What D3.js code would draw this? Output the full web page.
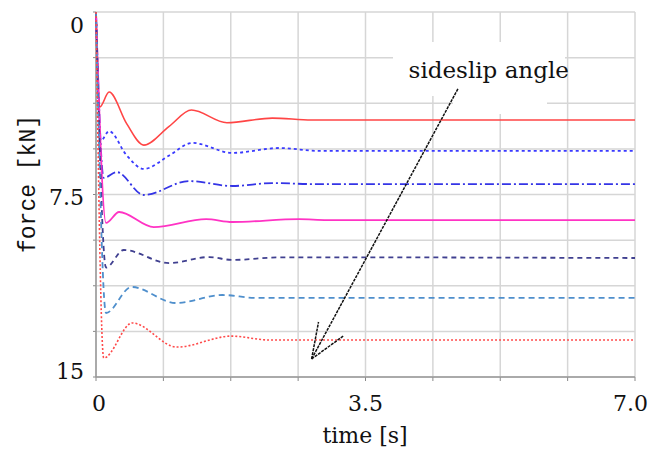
<!DOCTYPE html>
<html>
<head>
<meta charset="utf-8">
<script src="https://cdn.jsdelivr.net/npm/d3@7"></script>
<style>
  html, body { margin: 0; padding: 0; background: #ffffff; }
  svg { display: block; }
</style>
</head>
<body>
<svg id="chart" width="650" height="454"></svg>
<script>
// ---- data (time [s], force [kN]) ----
const xTickLabels = [0, 3.5, 7.0];
const yTickLabels = [0, 7.5, 15];
const seriesNames = ["s1", "s2", "s3", "s4", "s5", "s6", "s7"];

const s1 = [[0,0],[0.05,3.9],[0.17,3.29],[0.40,4.6],[0.62,5.47],[0.95,4.7],[1.24,4.03],[1.70,4.55],[2.29,4.36],[2.8,4.44],[7,4.44]];
const s2 = [[0,0],[0.06,5.3],[0.17,4.9],[0.40,5.9],[0.62,6.45],[0.95,5.9],[1.25,5.38],[1.77,5.79],[2.38,5.59],[2.9,5.71],[7,5.71]];
const s3 = [[0,0],[0.10,6.82],[0.27,6.58],[0.62,7.52],[1.21,6.95],[1.77,7.15],[2.29,7.03],[2.8,7.07],[7,7.07]];
const s4 = [[0,0],[0.13,8.67],[0.30,8.22],[0.75,8.84],[1.43,8.51],[1.77,8.63],[2.64,8.51],[3.0,8.55],[7,8.55]];
const s5 = [[0,0],[0.13,10.5],[0.36,9.78],[0.95,10.32],[1.47,10.07],[1.77,10.19],[2.4,10.08],[7,10.11]];
const s6 = [[0,0],[0.13,12.37],[0.46,11.3],[1.04,11.96],[1.64,11.63],[2.08,11.75],[7,11.75]];
const s7 = [[0,0],[0.10,14.22],[0.47,12.78],[1.05,13.77],[1.76,13.32],[2.25,13.48],[7,13.48]];
const seriesData = [s1, s2, s3, s4, s5, s6, s7];

// annotation (data units)
const arrowLine = [[4.70, 3.16], [2.80, 14.26]];
const arrowBarbs = [[[2.80, 14.26], [2.89, 12.74]], [[2.80, 14.26], [3.21, 13.32]]];
const annotationText = "sideslip angle";
const annotationPos = [4.06, 2.71];

// ---- styles ----
const styles = [
  { color: "#ff4545", dash: null,        width: 1.6 },
  { color: "#3a3aff", dash: "3,3",       width: 1.8 },
  { color: "#3434e6", dash: "9,3,2,3",   width: 1.8 },
  { color: "#ff33c4", dash: null,        width: 1.8 },
  { color: "#404090", dash: "5,4",       width: 1.8 },
  { color: "#4f8fcc", dash: "6,4",       width: 1.8 },
  { color: "#ff4a4a", dash: "2,2",       width: 1.6 }
];

const svg = d3.select("#chart");
const L = 96, R = 635, T = 12, B = 377;
const x = d3.scaleLinear().domain([0, 7]).range([L, R]);
const y = d3.scaleLinear().domain([0, 15]).range([T, B]);

const gridX = d3.range(0, 9).map(i => i * 7 / 8);
const gridY = d3.range(0, 9).map(i => i * 15 / 8);

const grid = svg.append("g");
grid.selectAll("line.gx").data(gridX).join("line")
  .attr("x1", d => x(d)).attr("x2", d => x(d))
  .attr("y1", T).attr("y2", B)
  .attr("stroke", "#d6d6d6").attr("stroke-width", 1.5);
grid.selectAll("line.gy").data(gridY).join("line")
  .attr("x1", L).attr("x2", R)
  .attr("y1", d => y(d)).attr("y2", d => y(d))
  .attr("stroke", "#d6d6d6").attr("stroke-width", 1.5);

// small ticks
grid.selectAll("line.tx").data(gridX).join("line")
  .attr("x1", d => x(d)).attr("x2", d => x(d))
  .attr("y1", B).attr("y2", B + 4)
  .attr("stroke", "#888").attr("stroke-width", 1);
grid.selectAll("line.ty").data(gridY).join("line")
  .attr("x1", L - 3).attr("x2", L)
  .attr("y1", d => y(d)).attr("y2", d => y(d))
  .attr("stroke", "#888").attr("stroke-width", 1);

// white box behind annotation
svg.append("rect").attr("x", 393).attr("y", 42).attr("width", 172).attr("height", 54).attr("fill", "#fff");
svg.append("rect").attr("x", 453).attr("y", 96).attr("width", 94).attr("height", 18).attr("fill", "#fff");

// axes lines
svg.append("line").attr("x1", L).attr("x2", L).attr("y1", T).attr("y2", B)
  .attr("stroke", "#999").attr("stroke-width", 1.5);
svg.append("line").attr("x1", L).attr("x2", R).attr("y1", B).attr("y2", B)
  .attr("stroke", "#999").attr("stroke-width", 1.5);

// series
const line = d3.line().x(d => x(d[0])).y(d => y(d[1])).curve(d3.curveMonotoneX);
svg.append("g").selectAll("path").data(seriesData).join("path")
  .attr("d", d => line(d))
  .attr("fill", "none")
  .attr("stroke", (d, i) => styles[i].color)
  .attr("stroke-width", (d, i) => styles[i].width)
  .attr("stroke-dasharray", (d, i) => styles[i].dash);

// tick labels
const yDy = { 0: 21, 7.5: 10, 15: 2 };
svg.append("g").selectAll("text").data(yTickLabels).join("text")
  .attr("x", 84).attr("y", d => y(d) + yDy[d])
  .attr("text-anchor", "end")
  .attr("font-family", "DejaVu Serif").attr("font-size", 22)
  .attr("fill", "#111")
  .text(d => d);
const xAnchor = ["middle", "middle", "end"];
const xShift = [3, 0, 13];
svg.append("g").selectAll("text").data(xTickLabels).join("text")
  .attr("x", (d, i) => x(d) + xShift[i]).attr("y", 411)
  .attr("text-anchor", (d, i) => xAnchor[i])
  .attr("font-family", "DejaVu Serif").attr("font-size", 22)
  .attr("fill", "#111")
  .text((d, i) => i === 0 ? "0" : d.toFixed(1));

// axis titles
svg.append("text").attr("x", 365).attr("y", 443)
  .attr("text-anchor", "middle")
  .attr("font-family", "DejaVu Serif").attr("font-size", 22)
  .attr("fill", "#111").text("time [s]");
svg.append("text")
  .attr("transform", "translate(35,184) rotate(-90)")
  .attr("text-anchor", "middle")
  .attr("font-family", "Liberation Mono").attr("font-size", 23)
  .attr("fill", "#111").text("force [kN]");

// annotation
svg.append("text").attr("x", x(annotationPos[0])).attr("y", y(annotationPos[1]))
  .attr("font-family", "DejaVu Serif").attr("font-size", 23)
  .attr("fill", "#111").text(annotationText);
const aLine = d3.line().x(d => x(d[0])).y(d => y(d[1]));
svg.append("path").attr("d", aLine(arrowLine))
  .attr("stroke", "#111").attr("stroke-width", 1.5).attr("fill", "none")
  .attr("stroke-dasharray", "3,1");
svg.append("g").selectAll("path").data(arrowBarbs).join("path")
  .attr("d", d => aLine(d))
  .attr("stroke", "#111").attr("stroke-width", 1.5).attr("fill", "none")
  .attr("stroke-dasharray", "3,1");
</script>
</body>
</html>
